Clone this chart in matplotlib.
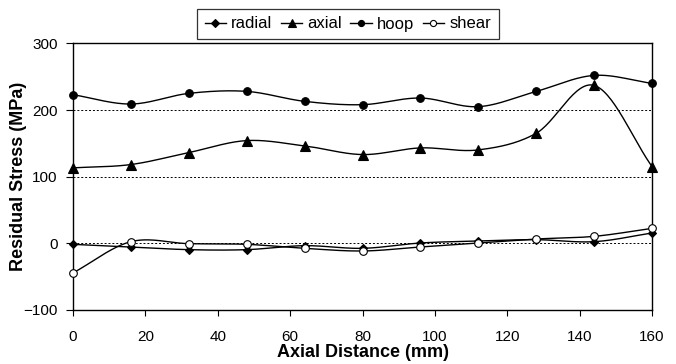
import numpy as np
import matplotlib
matplotlib.use("Agg")
import matplotlib.pyplot as plt

plt.rcParams['font.family'] = ['Liberation Sans', 'DejaVu Sans']

# Measurement positions along the axis (mm)
distance = [0, 16, 32, 48, 64, 80, 96, 112, 128, 144, 160]

# Residual stress components (MPa)
radial = [-2, -6, -10, -10, -4, -8, 0, 3, 5, 2, 15]
axial = [113, 118, 136, 154, 146, 133, 143, 140, 165, 237, 115]
hoop = [223, 209, 225, 228, 213, 208, 218, 205, 228, 252, 240]
shear = [-45, 2, -1, -2, -8, -12, -6, 0, 6, 10, 22]


def smooth(x, y, n=30):
    # Catmull-Rom spline through the points (like a spreadsheet "smoothed line")
    x = np.asarray(x, float)
    y = np.asarray(y, float)
    px = np.concatenate([[2 * x[0] - x[1]], x, [2 * x[-1] - x[-2]]])
    py = np.concatenate([[2 * y[0] - y[1]], y, [2 * y[-1] - y[-2]]])
    xs, ys = [], []
    t = np.linspace(0, 1, n, endpoint=False)
    for i in range(1, len(px) - 2):
        for p, out in ((px, xs), (py, ys)):
            p0, p1, p2, p3 = p[i - 1], p[i], p[i + 1], p[i + 2]
            out.append(0.5 * (2 * p1 + (-p0 + p2) * t
                              + (2 * p0 - 5 * p1 + 4 * p2 - p3) * t ** 2
                              + (-p0 + 3 * p1 - 3 * p2 + p3) * t ** 3))
    xs.append([x[-1]])
    ys.append([y[-1]])
    return np.concatenate(xs), np.concatenate(ys)


fig = plt.figure(figsize=(6.76, 3.64), dpi=100)
ax = fig.add_axes([0.108, 0.1497, 0.8565, 0.7308])

series = [
    ("radial", radial, dict(marker="D", markersize=4.5, markerfacecolor="black")),
    ("axial", axial, dict(marker="^", markersize=6.5, markerfacecolor="black")),
    ("hoop", hoop, dict(marker="o", markersize=5.5, markerfacecolor="black")),
    ("shear", shear, dict(marker="o", markersize=5.5, markerfacecolor="white")),
]

handles = []
for name, vals, style in series:
    sx, sy = smooth(distance, vals)
    ax.plot(sx, sy, color="black", lw=1.0, zorder=3, clip_on=False)
    ax.plot(distance, vals, linestyle="none", markeredgecolor="black",
            markeredgewidth=0.8, zorder=4, clip_on=False, **style)
    lg = dict(style)
    lg["markersize"] = style["markersize"] * 0.8
    h, = ax.plot([], [], color="black", lw=1.0, markeredgecolor="black",
                 markeredgewidth=0.8, label=name, **lg)
    handles.append(h)

ax.set_xlim(0, 160)
ax.set_ylim(-100, 300)
ax.set_xticks(range(0, 161, 20))
ax.set_yticks(range(-100, 301, 100))
for yv in (0, 100, 200):
    ax.axhline(yv, color="black", lw=0.7, linestyle=(0, (2, 2)), zorder=1)

for s in ax.spines.values():
    s.set_linewidth(1.0)
ax.tick_params(axis="y", direction="out", length=5, width=0.8,
               labelsize=11, pad=6)
ax.tick_params(axis="x", direction="out", length=4, width=0.8,
               labelsize=11, pad=11)

ax.set_xlabel("Axial Distance (mm)", fontsize=13, fontweight="bold", labelpad=0)
ax.set_ylabel("Residual Stress (MPa)", fontsize=13, fontweight="bold")
ax.yaxis.set_label_coords(-0.08, 0.5)

leg = fig.legend(handles=handles, loc="upper left",
                 bbox_to_anchor=(197 / 676, 1 - 9 / 364),
                 ncol=4, fontsize=12, frameon=True, fancybox=False,
                 edgecolor="black", handlelength=1.3, handletextpad=0.3,
                 columnspacing=0.5, borderpad=0.45, borderaxespad=0)
leg.get_frame().set_linewidth(0.9)

fig.savefig("out.png", dpi=100)
